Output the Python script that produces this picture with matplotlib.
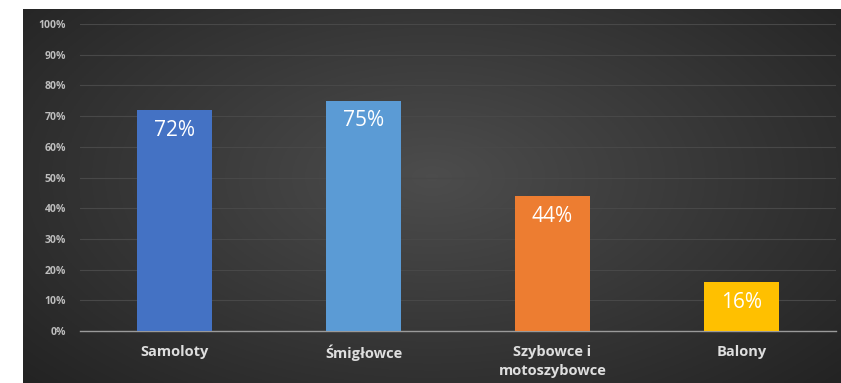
import numpy as np
import matplotlib.pyplot as plt
from matplotlib.ticker import PercentFormatter

categories = ['Samoloty', 'Śmigłowce', 'Szybowce i\nmotoszybowce', 'Balony']
values = [72, 75, 44, 16]
colors = ['#4472C4', '#5B9BD5', '#ED7D31', '#FFC000']
yticks = list(range(0, 101, 10))

plt.rcParams['font.family'] = ['Open Sans', 'DejaVu Sans']

W, H = 841, 383
fig = plt.figure(figsize=(W / 100, H / 100), dpi=100)
fig.patch.set_facecolor('white')

# dark gradient panel behind the chart
bg = fig.add_axes([23 / W, 0, (W - 23) / W, (H - 9) / H])
bg.set_axis_off()
yy, xx = np.mgrid[0:1:200j, 0:1:400j]
r = np.sqrt(((xx - 0.5) / 0.75) ** 2 + ((yy - 0.45) / 0.9) ** 2)
shade = 0.30 - 0.18 * np.clip(r, 0, 1)
bg.imshow(np.dstack([shade] * 3), aspect='auto', extent=[0, 1, 0, 1])
bg.set_xlim(0, 1)
bg.set_ylim(0, 1)

ax = fig.add_axes([80 / W, (H - 331) / H, (836 - 80) / W, (331 - 24) / H])
ax.patch.set_alpha(0)
x = np.arange(len(categories))
ax.bar(x, values, width=0.4, color=colors, zorder=3)

for xi, v in zip(x, values):
    ax.annotate(f'{v}%', (xi, v), xytext=(0, -7), textcoords='offset points',
                ha='center', va='top', color='white', fontsize=15, zorder=4)

ax.set_xlim(-0.5, len(categories) - 0.5)
ax.set_ylim(0, 100)
ax.set_yticks(yticks)
ax.yaxis.set_major_formatter(PercentFormatter(decimals=0))
ax.grid(axis='y', color='#484848', linewidth=0.8, zorder=0)
ax.set_xticks(x)
ax.set_xticklabels(categories, color='#dedede', fontsize=10.5, fontweight='bold',
                   linespacing=1.45)
ax.tick_params(axis='x', length=0, pad=10)
ax.tick_params(axis='y', length=0, pad=10, labelsize=7.5, labelcolor='#bdbdbd')
for lbl in ax.get_yticklabels():
    lbl.set_fontweight('bold')
for side in ['top', 'right', 'left']:
    ax.spines[side].set_visible(False)
ax.spines['bottom'].set_color('#9a9a9a')
ax.spines['bottom'].set_linewidth(1.0)

plt.savefig('out.png', dpi=100)
